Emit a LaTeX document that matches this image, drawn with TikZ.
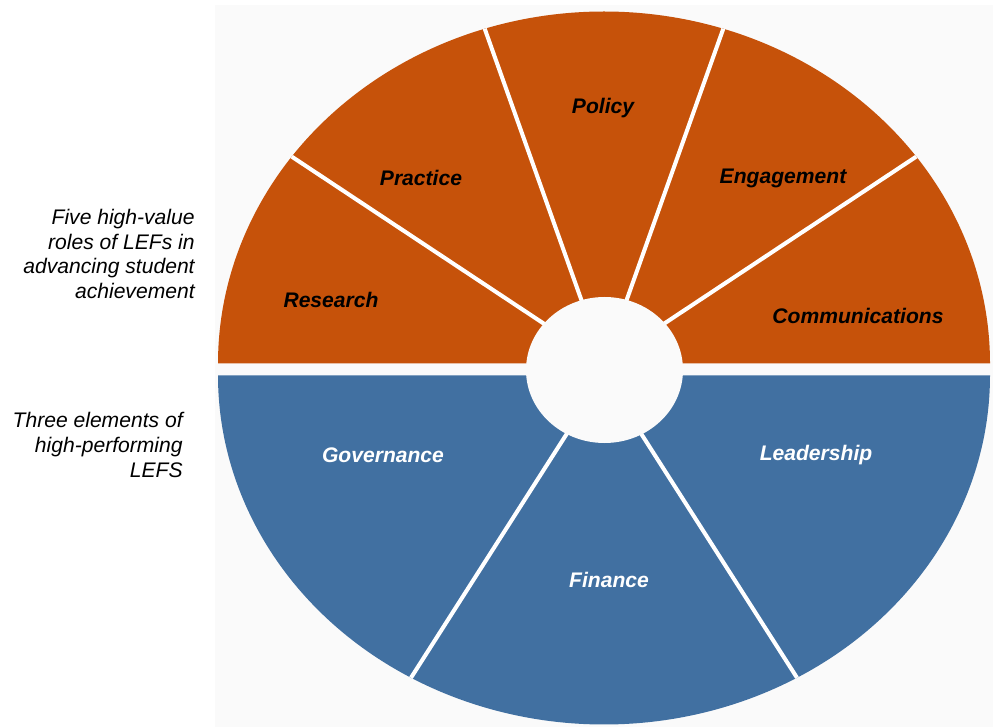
\documentclass[tikz,border=0pt]{standalone}
\usepackage{fontspec}
\setmainfont{Liberation Sans}
\usepackage{tikz}
\usetikzlibrary{calc}

\definecolor{roleorange}{RGB}{198,82,10}
\definecolor{elemblue}{RGB}{65,112,161}
\definecolor{paper}{RGB}{250,250,250}

\tikzset{
	role/.style={fill=roleorange},
	elem/.style={fill=elemblue},
	divider/.style={draw=white, line width=2.3pt},
	seglabel/.style={font=\fontsize{12}{14}\selectfont\bfseries\itshape, inner sep=0pt},
	sidetext/.style={font=\fontsize{12}{14}\selectfont\itshape, align=right, anchor=east, inner sep=0pt}
}

\begin{document}
\begin{tikzpicture}
		\useasboundingbox (0,0) rectangle (20,14.54);
		\fill[paper] (4.30,0) rectangle (19.86,14.44);
		
		% Centres
		\coordinate (uc) at (12.08,7.27);
		\coordinate (lc) at (12.08,7.03);
		\coordinate (hc) at (12.09,7.14);
		
		% Upper half: five roles
		\foreach \a in {0,36,...,144}
		\fill[role] (uc) -- ++(\a:7.72 and 7.04) arc[start angle=\a, end angle=\a+36, x radius=7.72, y radius=7.04] -- cycle;
		
		% Lower half: three elements
		\foreach \a in {180,240,300}
		\fill[elem] (lc) -- ++(\a:7.72 and 6.98) arc[start angle=\a, end angle=\a+60, x radius=7.72, y radius=6.98] -- cycle;
		
		% Dividers
		\foreach \a in {36,72,108,144}
		\draw[divider] (uc) -- ++(\a:7.72 and 7.04);
		\foreach \a in {240,300}
		\draw[divider] (lc) -- ++(\a:7.72 and 6.98);
		
		% Hub
		\fill[paper] (hc) ellipse [x radius=1.57, y radius=1.46];
		
		% Labels
		\node[seglabel] (policy) at (12.06,12.38) {Policy};
		\node[seglabel] (practice) at (8.42,10.98) {Practice};
		\node[seglabel] (engagement) at (15.66,10.98) {Engagement};
		\node[seglabel] (research) at (6.62,8.54) {Research};
		\node[seglabel] (communications) at (17.16,8.22) {Communications};
		\node[seglabel, text=white] (governance) at (7.66,5.44) {Governance};
		\node[seglabel, text=white] (finance) at (12.18,2.94) {Finance};
		\node[seglabel, text=white] (leadership) at (16.32,5.44) {Leadership};
		
		% Side texts
		\node[sidetext] (roles) at (3.90,9.46) {Five high-value\\roles of LEFs in\\advancing student\\achievement};
		\node[sidetext] (elements) at (3.66,5.64) {Three elements of\\high-performing\\LEFS};
	\end{tikzpicture}
\end{document}
